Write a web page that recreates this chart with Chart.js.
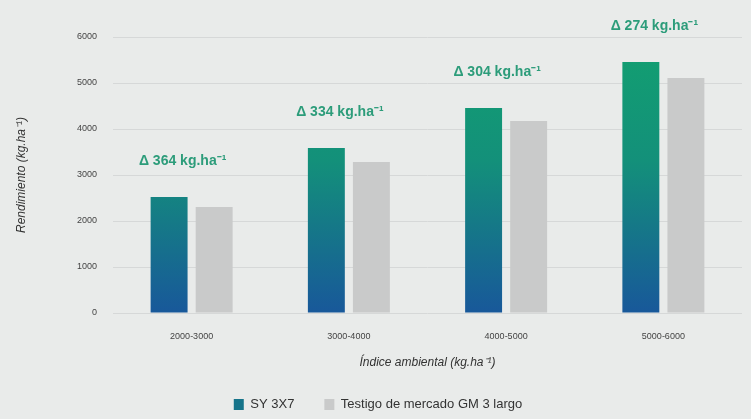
<!DOCTYPE html>
<html>
<head>
<meta charset="utf-8">
<script src="https://cdn.jsdelivr.net/npm/chart.js@4.4.1/dist/chart.umd.min.js"></script>
<style>
html,body{margin:0;padding:0;background:#e9ebea;}
#wrap{width:751px;height:419px;position:relative;}
</style>
</head>
<body>
<div id="wrap"><canvas id="c" width="751" height="419"></canvas></div>
<script>
const categories = ["2000-3000", "3000-4000", "4000-5000", "5000-6000"];
const sy3x7 = [2520, 3585, 4455, 5455];
const testigo = [2305, 3285, 4175, 5110];
const deltaLabels = ["\u0394 364 kg.ha\u207B\u00B9", "\u0394 334 kg.ha\u207B\u00B9", "\u0394 304 kg.ha\u207B\u00B9", "\u0394 274 kg.ha\u207B\u00B9"];
const seriesNames = ["SY 3X7", "Testigo de mercado GM 3 largo"];

const FONT = "'Liberation Sans', Arial, sans-serif";

function greenGradient(ctx) {
  const chart = ctx.chart;
  const area = chart.chartArea;
  if (!area) return '#15788a';
  const g = chart.ctx.createLinearGradient(0, area.top, 0, area.bottom);
  g.addColorStop(0, '#12a070');
  g.addColorStop(0.45, '#13907a');
  g.addColorStop(1, '#18589a');
  return g;
}

const bgPlugin = {
  id: 'bg',
  beforeDraw(chart) {
    const c = chart.ctx;
    c.save();
    c.fillStyle = '#e9ebea';
    c.fillRect(0, 0, chart.width, chart.height);
    c.restore();
  }
};

const deltaPlugin = {
  id: 'delta',
  afterDatasetsDraw(chart) {
    const m0 = chart.getDatasetMeta(0).data;
    const m1 = chart.getDatasetMeta(1).data;
    const c = chart.ctx;
    c.save();
    c.fillStyle = '#2c9c7a';
    c.font = 'bold 14px ' + FONT;
    c.textAlign = 'center';
    c.textBaseline = 'middle';
    m0.forEach((bar, i) => {
      const cx = (bar.x + m1[i].x) / 2 - 9;
      c.fillText(deltaLabels[i], cx, bar.y - 36);
    });
    c.restore();
  }
};

new Chart(document.getElementById('c'), {
  type: 'bar',
  data: {
    labels: categories,
    datasets: [
      { label: seriesNames[0], data: sy3x7, backgroundColor: greenGradient,
        categoryPercentage: 0.573, barPercentage: 0.82 },
      { label: seriesNames[1], data: testigo, backgroundColor: '#c9caca',
        categoryPercentage: 0.573, barPercentage: 0.82 }
    ]
  },
  options: {
    responsive: false,
    animation: false,
    devicePixelRatio: 1,
    layout: { padding: { top: 37, right: 9, left: 14, bottom: -2 } },
    scales: {
      x: {
        grid: { display: false },
        border: { display: false },
        ticks: { font: { family: FONT, size: 9 }, color: '#444', padding: 10 },
        title: { display: true, text: '\u00CDndice ambiental (kg.ha\u207B\u00B9)',
                 font: { family: FONT, size: 12, style: 'italic' }, color: '#333', padding: { top: 4, bottom: -2 } },
        afterFit(scale) { scale.height = 55; }
      },
      y: {
        min: 0, max: 6000,
        ticks: { stepSize: 1000, font: { family: FONT, size: 9 }, color: '#444', padding: 16,
                 callback: (v) => String(v) },
        grid: { color: '#d6d8d8', lineWidth: 1, drawTicks: false },
        border: { display: false },
        title: { display: true, text: 'Rendimiento (kg.ha\u207B\u00B9)',
                 font: { family: FONT, size: 12, style: 'italic' }, color: '#333', padding: { top: 0, bottom: 0 } },
        afterFit(scale) { scale.width = 99; }
      }
    },
    plugins: {
      legend: {
        position: 'bottom',
        labels: {
          font: { family: FONT, size: 13 }, color: '#333',
          boxWidth: 10, boxHeight: 11, padding: 30,
          generateLabels(chart) {
            return chart.data.datasets.map((ds, i) => ({
              text: ds.label,
              fillStyle: i === 0 ? '#16748a' : '#c9caca',
              strokeStyle: 'rgba(0,0,0,0)',
              lineWidth: 0,
              datasetIndex: i,
              hidden: false,
              fontColor: '#333'
            }));
          }
        }
      },
      tooltip: { enabled: false }
    }
  },
  plugins: [bgPlugin, deltaPlugin]
});
</script>
</body>
</html>
